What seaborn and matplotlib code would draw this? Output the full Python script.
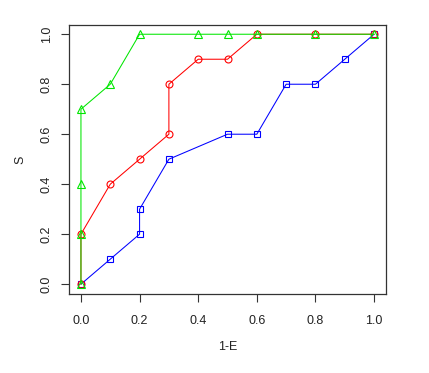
import pandas as pd
import seaborn as sns
import matplotlib
matplotlib.use("Agg")
import matplotlib.pyplot as plt


# curves (x = 1-E, y = S)
blue_x = [0, 0.1, 0.2, 0.2, 0.3, 0.5, 0.6, 0.7, 0.8, 0.9, 1.0]
blue_y = [0, 0.1, 0.2, 0.3, 0.5, 0.6, 0.6, 0.8, 0.8, 0.9, 1.0]

red_x = [0, 0, 0.1, 0.2, 0.3, 0.3, 0.4, 0.5, 0.6, 0.8, 1.0]
red_y = [0, 0.2, 0.4, 0.5, 0.6, 0.8, 0.9, 0.9, 1.0, 1.0, 1.0]

green_x = [0, 0, 0, 0, 0.1, 0.2, 0.4, 0.5, 0.6, 0.8, 1.0]
green_y = [0, 0.2, 0.4, 0.7, 0.8, 1.0, 1.0, 1.0, 1.0, 1.0, 1.0]

ticks = [0.0, 0.2, 0.4, 0.6, 0.8, 1.0]
tick_labels = ["0.0", "0.2", "0.4", "0.6", "0.8", "1.0"]

sns.set_style("white")
plt.rcParams['font.family'] = ['Liberation Sans', 'DejaVu Sans']

fig = plt.figure(figsize=(4.29, 3.73), dpi=100)
ax = fig.add_axes([0.160, 0.212, 0.740, 0.721])

series = [
    (blue_x, blue_y, "#0000ff", "s", 5),
    (red_x, red_y, "#ff0000", "o", 5),
    (green_x, green_y, "#00e600", "^", 5.8),
]
for xs, ys, col, mk, ms in series:
    df = pd.DataFrame({"x": xs, "y": ys})
    sns.lineplot(data=df, x="x", y="y", sort=False, estimator=None,
                 color=col, marker=mk, markersize=ms, markerfacecolor="none",
                 markeredgecolor=col, markeredgewidth=0.8, linewidth=0.75, ax=ax)

ax.set_xlim(-0.042, 1.041)
ax.set_ylim(-0.039, 1.037)
ax.set_xticks(ticks)
ax.set_xticklabels(tick_labels)
ax.set_yticks(ticks)
ax.set_yticklabels(tick_labels, rotation=90, va="center")
ax.tick_params(direction="out", length=5.5, width=0.8, colors="#333333",
               labelsize=9, labelcolor="#222222", left=True, bottom=True)
ax.tick_params(axis="x", pad=9.5)
ax.tick_params(axis="y", pad=6)
for s in ax.spines.values():
    s.set_visible(True)
    s.set_color("#333333")
    s.set_linewidth(0.9)

ax.set_xlabel("1-E", fontsize=9, color="#222222", labelpad=10)
ax.set_ylabel("S", fontsize=9, color="#222222", labelpad=10)

fig.savefig("out.png", dpi=100)
